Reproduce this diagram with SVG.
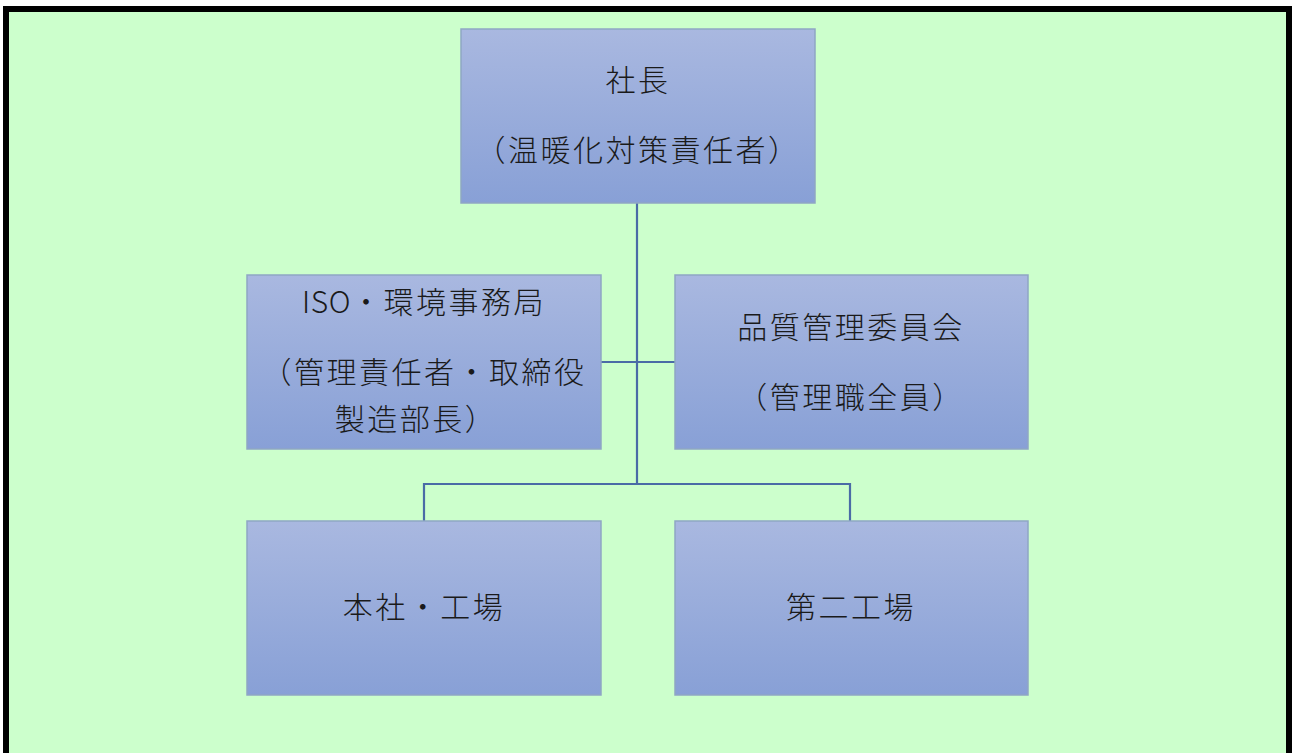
<svg xmlns="http://www.w3.org/2000/svg" width="1292" height="753" viewBox="0 0 1292 753">
<defs>
<linearGradient id="g" x1="0" y1="0" x2="0" y2="1">
<stop offset="0" stop-color="#A9B8E0"/>
<stop offset="1" stop-color="#88A0D6"/>
</linearGradient>
<style>
.box{fill:url(#g);stroke:#8FA6C4;stroke-width:1.5}
.t{font-family:"Noto Sans CJK JP","Noto Sans",sans-serif;font-size:30px;font-weight:300;fill:#1a1a1a;letter-spacing:2.5px}
.c{fill:none;stroke:#4A6BA6;stroke-width:2.2}
</style>
</defs>
<rect x="0" y="0" width="1292" height="753" fill="#FFFFFF"/>
<rect x="6" y="9" width="1283" height="800" fill="#CCFFCC" stroke="#000000" stroke-width="6"/>
<g id="connectors">
<line class="c" x1="637" y1="203" x2="637" y2="484"/>
<line class="c" x1="601" y1="362" x2="675" y2="362"/>
<polyline class="c" points="424,521 424,484 850,484 850,521"/>
</g>
<g id="president">
<rect class="box" x="461" y="29" width="354" height="174"/>
<text class="t" x="638" y="91" text-anchor="middle">社長</text>
<text class="t" x="638" y="161" text-anchor="middle">（温暖化対策責任者）</text>
</g>
<g id="iso-office">
<rect class="box" x="247" y="275" width="354" height="174"/>
<text class="t" x="424" y="313" text-anchor="middle"><tspan style="letter-spacing:0.5px">ISO</tspan>・環境事務局</text>
<text class="t" x="424" y="383" text-anchor="middle">（管理責任者・取締役</text>
<text class="t" x="416" y="430" text-anchor="middle">製造部長）</text>
</g>
<g id="quality-committee">
<rect class="box" x="675" y="275" width="353" height="174"/>
<text class="t" x="851" y="338" text-anchor="middle">品質管理委員会</text>
<text class="t" x="851" y="408" text-anchor="middle">（管理職全員）</text>
</g>
<g id="head-office">
<rect class="box" x="247" y="521" width="354" height="174"/>
<text class="t" x="424" y="618" text-anchor="middle">本社・工場</text>
</g>
<g id="second-factory">
<rect class="box" x="675" y="521" width="353" height="174"/>
<text class="t" x="851" y="618" text-anchor="middle">第二工場</text>
</g>
</svg>
